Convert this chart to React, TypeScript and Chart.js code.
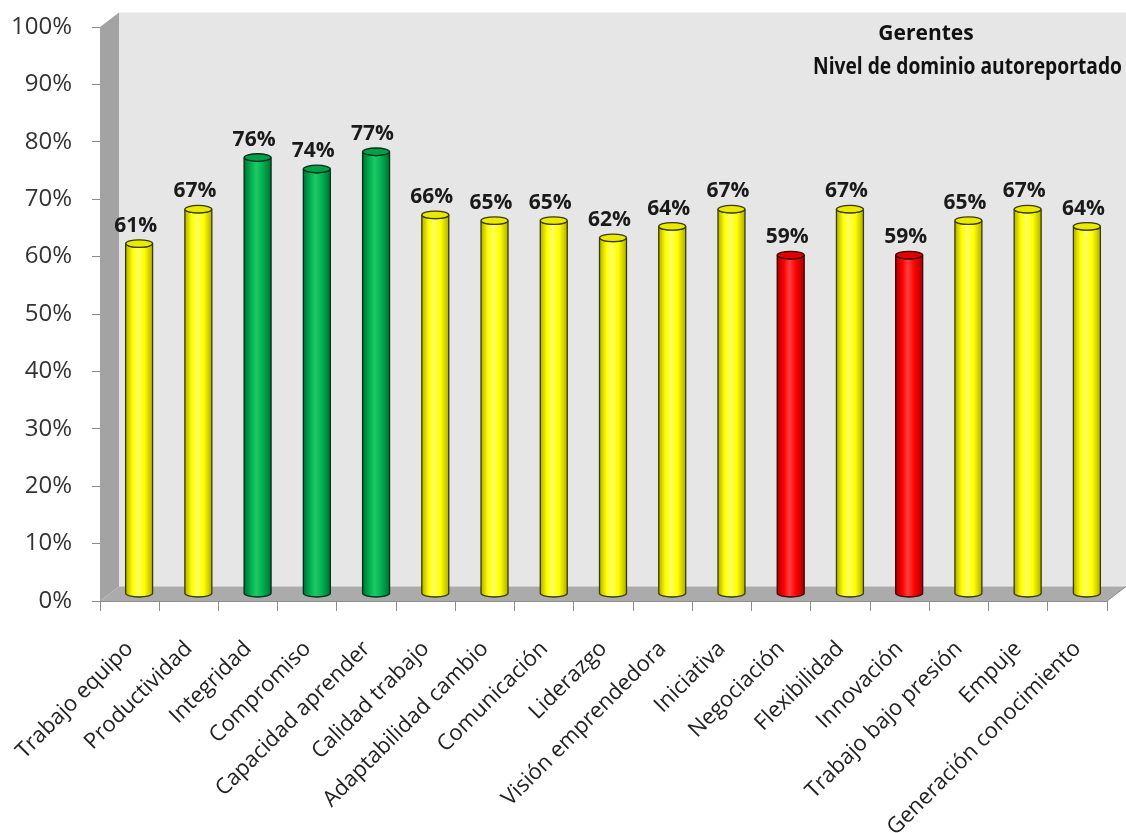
import { useEffect, useRef } from 'react';
import { Chart, registerables } from 'chart.js';

Chart.register(...registerables);

const categories: string[] = [
  'Trabajo equipo',
  'Productividad',
  'Integridad',
  'Compromiso',
  'Capacidad aprender',
  'Calidad trabajo',
  'Adaptabilidad cambio',
  'Comunicación',
  'Liderazgo',
  'Visión emprendedora',
  'Iniciativa',
  'Negociación',
  'Flexibilidad',
  'Innovación',
  'Trabajo bajo presión',
  'Empuje',
  'Generación conocimiento',
];

const values: number[] = [61, 67, 76, 74, 77, 66, 65, 65, 62, 64, 67, 59, 67, 59, 65, 67, 64];

const levels: string[] = [
  'medio', 'medio', 'alto', 'alto', 'alto', 'medio', 'medio', 'medio', 'medio',
  'medio', 'medio', 'bajo', 'medio', 'bajo', 'medio', 'medio', 'medio',
];

const yTicks: number[] = [0, 10, 20, 30, 40, 50, 60, 70, 80, 90, 100];

const titleTop = 'Gerentes';
const titleMain = 'Nivel de dominio autoreportado';

const palette: Record<string, { base: string; light: string; dark: string; top: string; edge: string }> = {
  medio: { base: '#ffff00', light: '#ffff60', dark: '#b0b000', top: '#eaea00', edge: '#3a3a00' },
  alto: { base: '#00b050', light: '#20c865', dark: '#007035', top: '#00a04a', edge: '#00301a' },
  bajo: { base: '#ff0000', light: '#ff4040', dark: '#a80000', top: '#e00000', edge: '#400000' },
};

const DX = 19;
const DY = -14.5;
const FONT = '"Open Sans", "Noto Sans", sans-serif';

const wallsPlugin = {
  id: 'walls3d',
  beforeDatasetsDraw(chart: any) {
    const { ctx, chartArea } = chart;
    const { left, right, top, bottom } = chartArea;
    ctx.save();
    // back wall
    ctx.fillStyle = '#e6e6e6';
    ctx.fillRect(left + DX, top + DY, right - left + 40, bottom - top);
    // side wall
    ctx.beginPath();
    ctx.moveTo(left, top);
    ctx.lineTo(left + DX, top + DY);
    ctx.lineTo(left + DX, bottom + DY);
    ctx.lineTo(left, bottom);
    ctx.closePath();
    ctx.fillStyle = '#a3a3a3';
    ctx.fill();
    // floor
    ctx.beginPath();
    ctx.moveTo(left, bottom);
    ctx.lineTo(left + DX, bottom + DY);
    ctx.lineTo(right + DX, bottom + DY);
    ctx.lineTo(right, bottom);
    ctx.closePath();
    ctx.fillStyle = '#ababab';
    ctx.fill();
    ctx.strokeStyle = '#8c8c8c';
    ctx.lineWidth = 1;
    ctx.beginPath();
    ctx.moveTo(right, bottom);
    ctx.lineTo(right + DX, bottom + DY);
    ctx.stroke();
    ctx.restore();
  },
};

function drawCylinder(ctx: CanvasRenderingContext2D, cx: number, topY: number, botY: number, w: number, c: any) {
  const rx = w / 2;
  const ry = w * 0.14;
  const grad = ctx.createLinearGradient(cx - rx, 0, cx + rx, 0);
  grad.addColorStop(0, c.dark);
  grad.addColorStop(0.25, c.base);
  grad.addColorStop(0.45, c.light);
  grad.addColorStop(0.7, c.base);
  grad.addColorStop(1, c.dark);
  ctx.beginPath();
  ctx.moveTo(cx - rx, topY);
  ctx.lineTo(cx - rx, botY);
  ctx.ellipse(cx, botY, rx, ry, 0, Math.PI, 0, true);
  ctx.lineTo(cx + rx, topY);
  ctx.ellipse(cx, topY, rx, ry, 0, 0, Math.PI, false);
  ctx.closePath();
  ctx.fillStyle = grad;
  ctx.fill();
  ctx.strokeStyle = c.edge;
  ctx.lineWidth = 1.3;
  ctx.stroke();
  ctx.beginPath();
  ctx.ellipse(cx, topY, rx, ry, 0, 0, Math.PI * 2);
  ctx.fillStyle = c.top;
  ctx.fill();
  ctx.stroke();
}

const cylinderPlugin = {
  id: 'cylinders',
  afterDatasetsDraw(chart: any) {
    const { ctx } = chart;
    const meta = chart.getDatasetMeta(0);
    ctx.save();
    meta.data.forEach((el: any, i: number) => {
      const cx = el.x + DX / 2;
      const topY = el.y + DY / 2;
      const botY = el.base + DY / 2;
      const c = palette[levels[i]];
      drawCylinder(ctx, cx, topY, botY, el.width, c);
      ctx.fillStyle = '#1a1a1a';
      ctx.font = `bold 21px ${FONT}`;
      ctx.textAlign = 'center';
      ctx.textBaseline = 'alphabetic';
      ctx.fillText(`${values[i]}%`, cx - 3.5, topY - el.width * 0.14 - 8);
    });
    ctx.restore();
  },
};

function fitText(ctx: CanvasRenderingContext2D, text: string, x: number, y: number, maxW: number) {
  const w = ctx.measureText(text).width;
  const k = Math.min(1, maxW / w);
  ctx.save();
  ctx.translate(x, y);
  ctx.scale(k, 1);
  ctx.fillText(text, 0, 0);
  ctx.restore();
}

const titlePlugin = {
  id: 'titles',
  afterDraw(chart: any) {
    const { ctx, chartArea } = chart;
    ctx.save();
    ctx.fillStyle = '#111111';
    ctx.textBaseline = 'middle';
    ctx.textAlign = 'center';
    ctx.font = `bold 21px ${FONT}`;
    fitText(ctx, titleTop, chartArea.right - 181, 34, 98);
    ctx.textAlign = 'right';
    ctx.font = `bold 23px ${FONT}`;
    fitText(ctx, titleMain, chartArea.right + 15, 67, 309);
    ctx.restore();
  },
};

export default function App() {
  const ref = useRef<HTMLCanvasElement>(null);
  useEffect(() => {
    document.body.style.margin = '0';
    const canvas = ref.current!;
    const chart = new Chart(canvas, {
      type: 'bar',
      data: {
        labels: categories,
        datasets: [
          {
            data: values,
            backgroundColor: 'rgba(0,0,0,0)',
            borderWidth: 0,
            categoryPercentage: 1,
            barPercentage: 0.455,
          },
        ],
      },
      options: {
        responsive: false,
        animation: false,
        layout: { padding: { left: 0, right: 19, top: 27, bottom: 0 } },
        plugins: {
          legend: { display: false },
          tooltip: { enabled: false },
          title: { display: false },
        },
        scales: {
          y: {
            min: 0,
            max: 100,
            afterFit: (s: any) => {
              s.width = 100;
              s.paddingTop = 0;
              s.paddingBottom = 0;
            },
            afterBuildTicks: (s: any) => {
              s.ticks = yTicks.map((v) => ({ value: v }));
            },
            ticks: {
              callback: (v: any) => `${v}%`,
              font: { family: FONT, size: 24 },
              color: '#333333',
              padding: 20,
            },
            grid: {
              drawOnChartArea: false,
              drawTicks: true,
              tickLength: 8,
              color: '#8c8c8c',
            },
            border: { display: true, color: '#8c8c8c' },
          },
          x: {
            afterFit: (s: any) => {
              s.height = 232;
              s.paddingLeft = 0;
              s.paddingRight = 0;
            },
            ticks: {
              autoSkip: false,
              maxRotation: 45,
              minRotation: 45,
              font: { family: FONT, size: 22 },
              color: '#222222',
              padding: 25,
            },
            grid: {
              offset: true,
              drawOnChartArea: false,
              drawTicks: true,
              tickLength: 10,
              color: '#8c8c8c',
            },
            border: { display: true, color: '#8c8c8c' },
          },
        },
      },
      plugins: [wallsPlugin, cylinderPlugin, titlePlugin],
    });
    return () => chart.destroy();
  }, []);
  return (
    <div style={{ width: 1126, height: 833, background: '#ffffff' }}>
      <canvas ref={ref} width={1126} height={833} />
    </div>
  );
}
